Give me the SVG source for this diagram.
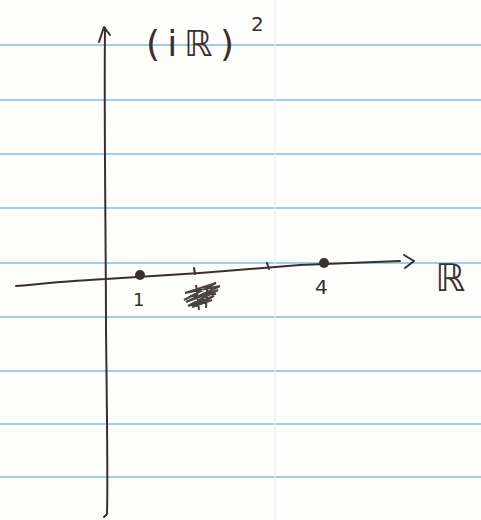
<svg xmlns="http://www.w3.org/2000/svg" width="481" height="520" viewBox="0 0 481 520">
<style>
.rule{stroke:#7fbde6;stroke-width:1.6;fill:none}
.ink{stroke:#3a2f2c;stroke-width:2;fill:none;stroke-linecap:round;stroke-linejoin:round}
.lbl{font-family:"DejaVu Sans","Liberation Sans",sans-serif;fill:#3a2f2c}
</style>
<rect width="481" height="520" fill="#fdfdfb"/>
<g id="paper">
<line class="rule" x1="0" y1="45" x2="481" y2="45"/>
<line class="rule" x1="0" y1="100" x2="481" y2="100"/>
<line class="rule" x1="0" y1="154" x2="481" y2="154"/>
<line class="rule" x1="0" y1="208" x2="481" y2="208"/>
<line class="rule" x1="0" y1="263" x2="481" y2="263"/>
<line class="rule" x1="0" y1="317" x2="481" y2="317"/>
<line class="rule" x1="0" y1="371" x2="481" y2="371"/>
<line class="rule" x1="0" y1="424" x2="481" y2="424"/>
<line class="rule" x1="0" y1="477" x2="481" y2="477"/>
<line x1="275" y1="0" x2="275" y2="520" stroke="#eceff2" stroke-width="1"/>
</g>
<g id="axes">
<path class="ink" d="M105 28 C104 120 106 250 106 330 C107 420 108 480 107 514 L104 517"/>
<path class="ink" d="M99 42 L104 27 L110 35"/>
<path class="ink" d="M16 286 C50 283 80 280 106 279 L200 273 L300 265 L400 261"/>
<path class="ink" d="M404 255 L414 261 L405 268"/>
<path class="ink" d="M194 268 L195 274"/>
<path class="ink" d="M267 263 L269 269"/>
</g>
<g id="points">
<circle cx="140" cy="275" r="5" fill="#3a2f2c"/>
<circle cx="324" cy="263" r="5" fill="#3a2f2c"/>
</g>
<g id="labels">
<text class="lbl" x="146" y="56" font-size="36" textLength="88" lengthAdjust="spacing">(iℝ)</text>
<text class="lbl" x="251" y="31" font-size="20">2</text>
<text class="lbl" x="133" y="306" font-size="18">1</text>
<text class="lbl" x="315" y="294" font-size="20">4</text>
<text class="lbl" x="435" y="291" font-size="38">ℝ</text>
</g>
<g id="scribble">
<path d="M184 300 L216 283 L185 293 L220 286 L186 302 L218 290 L188 306 L214 296 L192 307 L212 300 M196 285 L199 310 M207 289 L206 308 M190 296 L216 294" stroke="#4a4443" stroke-width="2" fill="none"/>
</g>
</svg>
